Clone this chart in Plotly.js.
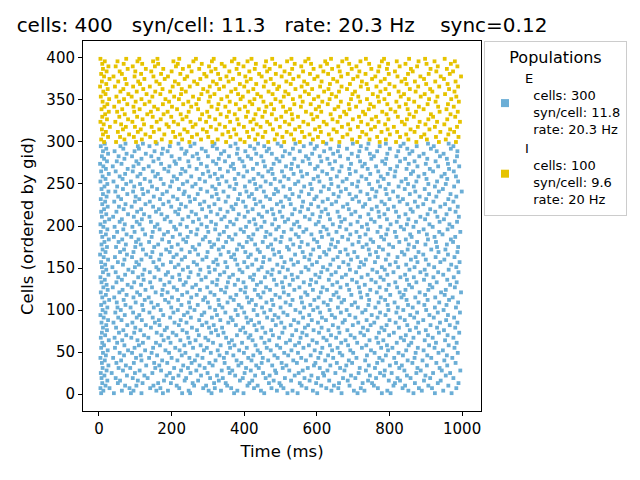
<!DOCTYPE html>
<html>
<head>
<meta charset="utf-8">
<script src="https://cdn.plot.ly/plotly-3.0.1.min.js"></script>
<style>
  html, body { margin: 0; padding: 0; background: #fff; }
  #raster { width: 640px; height: 480px; }
</style>
</head>
<body>
<div id="raster"></div>
<script>
// header numbers and the legend text, as printed on the figure
const titleText = 'cells: 400   syn/cell: 11.3   rate: 20.3 Hz    sync=0.12';
const popNames = ['E', 'I'];
const popCells = [300, 100];
const popSyn = ['11.8', '9.6'];
const popRate = ['20.3', '20'];

// NOTE: the picture holds ~8000 spikes (~0.8 px per gid), so single spikes can't be
// read off it. These lists are NOT the real spikes: they are hand-written stand-ins
// that only follow what is readable (E = gid 0-299, I = gid 300-399, spikes from
// ~5 to ~995 ms, roughly even density, a denser band right after t=0).
// Only every 3rd gid is filled, so the field is thinner than the original.
const eGids = [1, 4, 7, 10, 13, 16, 19, 22, 25, 28, 31, 34, 37, 40, 43, 46, 49, 52, 55, 58,
  61, 64, 67, 70, 73, 76, 79, 82, 85, 88, 91, 94, 97, 100, 103, 106, 109, 112, 115, 118,
  121, 124, 127, 130, 133, 136, 139, 142, 145, 148, 151, 154, 157, 160, 163, 166, 169, 172, 175, 178,
  181, 184, 187, 190, 193, 196, 199, 202, 205, 208, 211, 214, 217, 220, 223, 226, 229, 232, 235, 238,
  241, 244, 247, 250, 253, 256, 259, 262, 265, 268, 271, 274, 277, 280, 283, 286, 289, 292, 295, 298];
const eTimes = [
  [6, 41, 88, 117, 176, 229, 251, 310, 372, 398, 455, 519, 547, 601, 668, 712, 779, 803, 866, 925, 971],
  [12, 63, 95, 158, 190, 247, 302, 336, 381, 446, 490, 533, 589, 640, 702, 731, 794, 852, 889, 948],
  [4, 29, 84, 141, 169, 221, 287, 319, 364, 427, 475, 508, 571, 626, 659, 721, 768, 836, 881, 917, 984],
  [18, 72, 103, 150, 214, 262, 295, 353, 409, 437, 501, 558, 612, 647, 690, 757, 811, 843, 907, 962],
  [9, 52, 120, 163, 198, 258, 317, 349, 414, 468, 497, 553, 598, 661, 726, 752, 815, 870, 933, 990],
  [23, 58, 107, 179, 236, 273, 330, 388, 422, 481, 529, 580, 634, 685, 741, 798, 829, 895, 941],
  [7, 46, 93, 134, 204, 240, 306, 341, 396, 459, 512, 566, 603, 672, 706, 763, 822, 858, 912, 976],
  [15, 77, 125, 186, 219, 281, 325, 375, 430, 470, 539, 585, 620, 694, 746, 785, 848, 899, 955],
  [5, 35, 99, 147, 195, 252, 299, 360, 401, 452, 488, 550, 617, 651, 715, 774, 806, 874, 920, 967],
  [21, 66, 112, 171, 226, 268, 338, 367, 418, 485, 524, 561, 629, 676, 735, 787, 841, 886, 944, 995],
  [10, 54, 86, 155, 207, 245, 291, 357, 405, 440, 506, 575, 608, 664, 718, 760, 827, 877, 938],
  [26, 74, 130, 166, 232, 277, 313, 384, 433, 477, 516, 592, 637, 681, 743, 801, 834, 903, 959],
  [8, 48, 96, 152, 188, 255, 304, 346, 392, 448, 503, 545, 596, 655, 697, 766, 818, 863, 929, 982],
  [16, 61, 117, 174, 216, 264, 321, 379, 420, 466, 535, 570, 623, 688, 733, 781, 850, 891, 951],
  [4, 39, 102, 138, 200, 249, 285, 344, 411, 451, 492, 557, 604, 645, 709, 772, 813, 869, 915, 973],
  [19, 69, 115, 160, 228, 271, 332, 370, 425, 483, 521, 583, 631, 670, 738, 790, 837, 904, 958],
  [11, 57, 91, 145, 193, 238, 308, 352, 399, 444, 510, 548, 610, 663, 700, 759, 825, 872, 935, 988],
  [24, 80, 127, 183, 222, 289, 327, 386, 437, 473, 530, 594, 642, 692, 749, 796, 846, 894, 947],
  [6, 44, 98, 149, 210, 259, 297, 361, 407, 462, 499, 563, 615, 657, 724, 777, 808, 878, 924, 979],
  [14, 70, 110, 168, 235, 280, 335, 373, 431, 490, 540, 578, 636, 686, 736, 793, 853, 909, 963],
  [9, 50, 121, 157, 197, 250, 314, 358, 394, 456, 515, 551, 600, 667, 711, 769, 820, 860, 928, 985],
  [27, 64, 106, 178, 224, 266, 301, 366, 423, 469, 526, 588, 627, 679, 745, 783, 840, 897, 953],
  [5, 43, 89, 136, 191, 246, 293, 350, 412, 447, 496, 555, 618, 653, 704, 764, 831, 866, 919, 976],
  [17, 75, 124, 172, 213, 275, 328, 380, 417, 479, 532, 572, 639, 693, 730, 799, 845, 906, 960],
  [8, 55, 97, 159, 203, 242, 309, 343, 403, 458, 505, 560, 606, 662, 720, 771, 812, 881, 936, 992],
  [22, 67, 114, 181, 230, 270, 322, 389, 434, 474, 543, 591, 632, 684, 740, 786, 856, 900, 950],
  [11, 47, 100, 143, 187, 256, 303, 339, 397, 450, 511, 567, 613, 659, 727, 778, 826, 873, 931, 981],
  [20, 78, 129, 167, 220, 284, 316, 377, 428, 487, 528, 576, 644, 699, 748, 792, 849, 913, 966],
  [7, 40, 92, 154, 208, 241, 296, 356, 410, 441, 502, 549, 603, 671, 714, 758, 817, 879, 939, 987],
  [25, 62, 118, 165, 225, 276, 334, 368, 419, 478, 537, 586, 625, 677, 737, 800, 842, 893, 956],
  [13, 53, 104, 148, 196, 253, 311, 363, 406, 463, 494, 562, 614, 650, 706, 767, 829, 868, 922, 978],
  [4, 71, 111, 177, 234, 283, 325, 382, 436, 484, 519, 579, 641, 690, 751, 789, 857, 910, 961],
  [18, 45, 94, 139, 205, 244, 290, 348, 400, 455, 508, 554, 609, 666, 725, 774, 819, 876, 933, 994],
  [10, 60, 122, 170, 217, 263, 320, 376, 426, 472, 541, 590, 635, 682, 734, 797, 838, 901, 949],
  [23, 51, 87, 151, 199, 251, 305, 340, 393, 449, 500, 565, 602, 658, 713, 761, 823, 864, 925, 983],
  [6, 73, 119, 162, 227, 272, 331, 385, 432, 480, 527, 582, 630, 696, 742, 795, 851, 896, 957],
  [15, 49, 101, 144, 192, 248, 300, 354, 413, 461, 514, 559, 619, 668, 705, 770, 814, 880, 937, 989],
  [28, 68, 126, 182, 218, 287, 329, 371, 421, 476, 533, 593, 638, 675, 744, 788, 847, 905, 964],
  [9, 42, 95, 137, 201, 254, 292, 362, 408, 445, 498, 556, 605, 660, 722, 776, 833, 871, 926, 974],
  [19, 76, 113, 173, 229, 269, 318, 378, 438, 486, 522, 574, 646, 695, 739, 802, 839, 898, 952],
  [5, 56, 105, 156, 189, 243, 307, 347, 402, 453, 509, 568, 611, 654, 719, 765, 828, 883, 942, 997],
  [24, 65, 128, 175, 215, 278, 336, 390, 429, 471, 538, 589, 628, 689, 747, 791, 844, 907, 955],
  [12, 38, 90, 146, 206, 257, 298, 351, 404, 460, 507, 552, 616, 665, 716, 773, 821, 862, 918, 980],
  [21, 79, 116, 180, 233, 267, 324, 374, 435, 489, 525, 581, 643, 683, 732, 798, 854, 911, 967],
  [7, 48, 97, 141, 194, 239, 312, 355, 398, 446, 504, 564, 598, 656, 710, 762, 816, 874, 930, 985],
  [16, 63, 123, 169, 223, 282, 326, 383, 424, 482, 534, 584, 633, 697, 750, 784, 848, 895, 959],
  [4, 53, 108, 153, 202, 247, 294, 359, 416, 457, 513, 547, 607, 669, 723, 775, 830, 867, 921, 977],
  [26, 72, 120, 184, 221, 274, 333, 369, 427, 475, 531, 596, 640, 680, 740, 794, 843, 902, 948],
  [11, 46, 93, 140, 190, 252, 304, 345, 395, 464, 497, 557, 612, 652, 708, 766, 811, 885, 934, 990],
  [20, 81, 125, 164, 231, 279, 319, 387, 439, 478, 520, 577, 629, 691, 753, 787, 855, 897, 963],
  [8, 37, 99, 158, 209, 245, 302, 353, 409, 448, 506, 569, 617, 661, 717, 779, 824, 869, 923, 984],
  [17, 66, 110, 176, 219, 270, 327, 381, 422, 491, 536, 587, 637, 687, 730, 801, 846, 908, 970],
  [6, 52, 103, 150, 198, 261, 315, 348, 400, 452, 511, 548, 600, 673, 721, 760, 817, 877, 940, 993],
  [25, 70, 117, 166, 228, 285, 323, 375, 433, 470, 529, 579, 645, 694, 735, 790, 859, 900, 951],
  [13, 44, 91, 142, 205, 237, 296, 364, 411, 454, 502, 566, 608, 657, 712, 768, 822, 872, 927, 979],
  [3, 77, 130, 171, 214, 273, 335, 372, 418, 483, 540, 583, 626, 685, 746, 797, 841, 893, 961],
  [18, 58, 95, 147, 195, 250, 299, 357, 403, 443, 496, 561, 620, 664, 703, 763, 834, 880, 935, 987],
  [10, 69, 121, 185, 227, 265, 330, 380, 437, 479, 523, 590, 634, 679, 743, 782, 850, 915, 954],
  [22, 47, 100, 152, 200, 258, 310, 342, 396, 465, 518, 553, 606, 651, 726, 771, 810, 868, 931, 989],
  [7, 74, 115, 163, 217, 276, 317, 386, 430, 474, 535, 575, 639, 698, 737, 799, 853, 899, 958],
  [15, 54, 102, 138, 193, 240, 305, 350, 407, 451, 500, 558, 601, 658, 715, 755, 827, 876, 928, 975],
  [27, 64, 109, 174, 232, 286, 328, 367, 420, 486, 527, 592, 642, 686, 748, 785, 845, 906, 969],
  [9, 41, 89, 145, 203, 244, 293, 358, 412, 458, 503, 550, 614, 670, 718, 777, 819, 861, 924, 981],
  [19, 76, 127, 179, 223, 268, 332, 376, 425, 472, 542, 585, 632, 692, 734, 791, 857, 903, 946],
  [5, 50, 98, 148, 190, 253, 301, 344, 399, 461, 509, 563, 610, 654, 709, 767, 815, 881, 937, 995],
  [23, 67, 120, 167, 212, 271, 320, 390, 436, 488, 530, 571, 627, 681, 741, 795, 840, 894, 960],
  [12, 43, 92, 154, 207, 242, 297, 352, 405, 447, 495, 552, 618, 663, 724, 775, 831, 866, 919, 973],
  [4, 71, 112, 161, 224, 282, 322, 371, 431, 477, 537, 597, 644, 693, 738, 803, 848, 910, 965],
  [16, 57, 104, 143, 197, 259, 309, 361, 414, 456, 512, 546, 605, 667, 712, 759, 820, 873, 938, 986],
  [28, 63, 118, 181, 230, 275, 337, 379, 427, 485, 521, 580, 636, 677, 749, 793, 852, 898, 950],
  [8, 39, 96, 139, 188, 246, 295, 346, 401, 449, 505, 567, 609, 662, 719, 772, 826, 885, 932, 991],
  [20, 80, 124, 172, 218, 267, 326, 385, 440, 480, 532, 588, 631, 695, 742, 786, 844, 905, 957],
  [6, 48, 105, 157, 210, 255, 308, 354, 410, 463, 498, 554, 613, 657, 706, 770, 818, 864, 926, 982],
  [14, 68, 116, 165, 221, 284, 334, 370, 423, 476, 539, 576, 624, 688, 751, 796, 858, 912, 966],
  [24, 55, 90, 149, 199, 239, 303, 365, 404, 452, 507, 559, 604, 672, 727, 765, 812, 878, 940, 988],
  [9, 73, 128, 177, 226, 278, 318, 377, 432, 490, 528, 584, 641, 684, 733, 787, 849, 893, 953],
  [17, 42, 99, 140, 192, 251, 290, 349, 397, 444, 501, 562, 616, 653, 716, 778, 828, 870, 921, 976],
  [5, 61, 111, 168, 216, 264, 329, 383, 428, 471, 524, 593, 630, 698, 745, 800, 837, 901, 962],
  [21, 53, 101, 151, 204, 248, 311, 356, 413, 460, 514, 551, 599, 660, 708, 761, 823, 883, 929, 984],
  [11, 78, 122, 175, 233, 272, 324, 388, 421, 482, 533, 578, 646, 690, 739, 792, 856, 909, 968],
  [26, 45, 94, 135, 187, 236, 298, 343, 406, 454, 493, 557, 611, 666, 720, 764, 810, 871, 936, 999],
  [7, 66, 119, 160, 220, 280, 321, 373, 434, 487, 526, 586, 633, 680, 752, 789, 842, 897, 947],
  [15, 50, 97, 146, 196, 257, 312, 360, 402, 445, 508, 565, 619, 659, 711, 774, 825, 867, 925, 978],
  [23, 75, 113, 178, 231, 266, 331, 378, 430, 473, 540, 582, 640, 697, 744, 798, 851, 907, 955],
  [4, 40, 88, 141, 201, 243, 292, 351, 415, 459, 499, 549, 607, 671, 714, 768, 833, 874, 931, 989],
  [18, 65, 126, 170, 215, 277, 327, 374, 426, 484, 522, 591, 638, 682, 736, 784, 845, 902, 959],
  [10, 57, 106, 155, 206, 254, 306, 339, 398, 450, 510, 560, 603, 655, 723, 776, 814, 880, 943, 983],
  [27, 72, 114, 162, 225, 286, 319, 384, 439, 478, 536, 573, 628, 691, 747, 795, 859, 896, 952],
  [6, 46, 93, 148, 191, 238, 301, 355, 408, 466, 504, 556, 615, 662, 707, 769, 816, 865, 920, 977],
  [19, 79, 123, 180, 229, 269, 333, 372, 424, 475, 529, 595, 643, 689, 740, 802, 847, 911, 964],
  [12, 38, 95, 137, 194, 249, 297, 363, 400, 457, 515, 548, 602, 668, 725, 763, 821, 877, 934, 992],
  [3, 62, 109, 171, 212, 281, 323, 369, 435, 481, 531, 581, 635, 694, 732, 788, 853, 900, 961],
  [22, 49, 103, 150, 208, 246, 314, 347, 395, 453, 497, 561, 612, 650, 719, 780, 829, 869, 927, 980],
  [14, 70, 117, 164, 222, 274, 330, 387, 419, 489, 538, 577, 629, 686, 750, 791, 843, 904, 958],
  [8, 54, 91, 144, 200, 258, 300, 358, 410, 447, 506, 570, 608, 664, 713, 757, 819, 882, 939, 986],
  [25, 76, 129, 173, 237, 270, 336, 380, 433, 476, 525, 587, 645, 696, 746, 794, 855, 894, 949],
  [11, 43, 98, 153, 189, 241, 294, 345, 403, 462, 512, 553, 620, 658, 717, 766, 824, 863, 930, 987],
  [20, 67, 110, 176, 227, 283, 325, 382, 428, 468, 534, 594, 637, 683, 737, 801, 849, 914, 969],
  [5, 59, 107, 139, 195, 252, 313, 362, 416, 455, 502, 564, 600, 661, 721, 773, 830, 875, 922, 976],
  [16, 73, 121, 159, 219, 263, 318, 376, 438, 492, 541, 583, 626, 699, 742, 790, 839, 906, 963]
];

const iGids = [300, 303, 306, 309, 312, 315, 318, 321, 324, 327, 330, 333, 336, 339, 342, 345, 348,
  351, 354, 357, 360, 363, 366, 369, 372, 375, 378, 381, 384, 387, 390, 393, 396, 399];
const iTimes = [
  [14, 47, 102, 156, 197, 249, 312, 350, 401, 466, 510, 553, 617, 662, 711, 773, 818, 874, 936, 983],
  [6, 70, 118, 173, 229, 281, 327, 389, 430, 484, 537, 589, 640, 697, 745, 790, 852, 903, 955],
  [25, 58, 96, 141, 210, 256, 301, 362, 413, 451, 505, 566, 603, 671, 718, 766, 829, 887, 928, 990],
  [11, 83, 128, 180, 223, 270, 340, 378, 437, 490, 529, 580, 633, 684, 736, 801, 846, 896, 962],
  [19, 52, 107, 151, 204, 244, 297, 356, 408, 458, 517, 559, 611, 655, 725, 778, 821, 869, 940, 978],
  [8, 66, 115, 166, 235, 286, 323, 372, 424, 479, 540, 595, 646, 692, 749, 795, 858, 910, 967],
  [30, 74, 99, 145, 192, 258, 308, 347, 399, 445, 498, 552, 607, 669, 713, 760, 812, 878, 925, 986],
  [13, 61, 124, 186, 218, 266, 332, 385, 434, 471, 524, 576, 627, 686, 740, 788, 842, 899, 951],
  [4, 45, 92, 159, 206, 252, 295, 361, 417, 463, 512, 563, 619, 657, 722, 770, 834, 883, 931, 994],
  [22, 80, 120, 170, 230, 278, 320, 381, 426, 488, 533, 590, 643, 699, 751, 797, 848, 907, 959],
  [9, 56, 105, 148, 199, 241, 304, 352, 405, 450, 502, 548, 601, 664, 716, 763, 823, 867, 920, 981],
  [17, 71, 133, 178, 225, 284, 335, 374, 431, 476, 531, 585, 638, 681, 733, 792, 855, 914, 968],
  [27, 50, 97, 143, 189, 247, 298, 358, 410, 457, 515, 570, 612, 675, 727, 780, 816, 873, 938, 988],
  [7, 64, 112, 162, 215, 273, 326, 387, 440, 482, 526, 597, 649, 690, 743, 803, 850, 894, 957],
  [15, 42, 95, 152, 201, 254, 310, 348, 402, 461, 507, 556, 606, 659, 708, 757, 827, 881, 934, 977],
  [23, 78, 126, 176, 232, 268, 329, 377, 422, 474, 538, 583, 630, 688, 747, 794, 845, 905, 961],
  [10, 55, 101, 139, 193, 246, 302, 360, 415, 453, 500, 561, 615, 666, 719, 771, 819, 868, 927, 991],
  [28, 69, 117, 183, 220, 275, 337, 390, 428, 486, 534, 592, 635, 694, 738, 786, 853, 909, 970],
  [5, 48, 90, 147, 207, 259, 306, 353, 396, 446, 509, 554, 604, 653, 714, 768, 831, 886, 932, 984],
  [18, 81, 131, 169, 226, 282, 318, 383, 436, 478, 522, 578, 641, 698, 754, 799, 840, 897, 953],
  [12, 59, 104, 155, 196, 239, 299, 364, 411, 467, 513, 567, 620, 661, 705, 775, 825, 872, 918, 979],
  [24, 67, 122, 175, 228, 287, 331, 376, 425, 491, 541, 587, 632, 683, 741, 789, 856, 912, 964],
  [3, 44, 94, 140, 203, 250, 305, 344, 400, 454, 496, 558, 609, 668, 721, 764, 814, 879, 937, 989],
  [20, 76, 113, 167, 219, 271, 324, 388, 433, 481, 528, 574, 636, 691, 737, 800, 847, 901, 960],
  [8, 53, 108, 158, 209, 262, 314, 357, 407, 459, 516, 565, 613, 656, 724, 776, 833, 870, 926, 982],
  [29, 72, 125, 181, 236, 279, 334, 369, 418, 473, 535, 593, 645, 700, 752, 787, 843, 895, 950],
  [14, 40, 98, 150, 190, 243, 296, 351, 403, 448, 503, 550, 602, 667, 712, 761, 822, 885, 941, 997],
  [6, 63, 116, 171, 224, 290, 328, 386, 441, 487, 525, 581, 631, 685, 734, 798, 851, 908, 966],
  [21, 57, 100, 144, 200, 255, 309, 359, 414, 463, 511, 562, 618, 663, 717, 769, 815, 864, 929, 975],
  [11, 79, 129, 177, 231, 276, 321, 379, 429, 470, 532, 591, 642, 696, 750, 793, 859, 913, 958],
  [26, 46, 93, 154, 212, 248, 303, 346, 398, 456, 499, 557, 610, 659, 709, 772, 828, 876, 933, 987],
  [9, 68, 119, 163, 217, 283, 338, 384, 432, 485, 539, 584, 628, 689, 744, 796, 844, 902, 969],
  [16, 51, 106, 149, 205, 260, 311, 366, 409, 460, 518, 568, 623, 670, 720, 779, 820, 880, 924, 980],
  [4, 75, 111, 161, 221, 267, 316, 373, 420, 477, 530, 577, 639, 682, 735, 785, 854, 898, 952]
];

const xTicks = [0, 200, 400, 600, 800, 1000];
const yTicks = [0, 50, 100, 150, 200, 250, 300, 350, 400];

const colE = '#6baed6';
const colI = '#e6c300';
const FONT = 'DejaVu Sans, sans-serif';
const nb = '\u00a0';

// svg text eats repeated spaces, so swap them for nbsp
function keepSpaces(s) {
  return s.replace(/ {2,}/g, m => nb.repeat(m.length));
}

function flatten(gids, times) {
  const xs = [], ys = [];
  gids.forEach((g, k) => {
    times[k].forEach(t => { xs.push(t); ys.push(g); });
  });
  return { xs, ys };
}

function legendLabel(k) {
  return popNames[k] +
    '<br>' + nb + nb + 'cells: ' + popCells[k] +
    '<br>' + nb + nb + 'syn/cell: ' + popSyn[k] +
    '<br>' + nb + nb + 'rate: ' + popRate[k] + ' Hz';
}

const e = flatten(eGids, eTimes);
const i = flatten(iGids, iTimes);

const dotStyle = { symbol: 'square', size: 3.8, line: { width: 0 } };

const data = [
  { x: e.xs, y: e.ys, type: 'scatter', mode: 'markers', showlegend: false, hoverinfo: 'skip',
    marker: Object.assign({ color: colE }, dotStyle) },
  { x: i.xs, y: i.ys, type: 'scatter', mode: 'markers', showlegend: false, hoverinfo: 'skip',
    marker: Object.assign({ color: colI }, dotStyle) },
  // legend-only entries, so the legend swatch can be bigger than the dots
  { x: [null], y: [null], type: 'scatter', mode: 'markers', name: legendLabel(0),
    marker: { symbol: 'square', size: 8, color: colE } },
  { x: [null], y: [null], type: 'scatter', mode: 'markers', name: legendLabel(1),
    marker: { symbol: 'square', size: 8, color: colI } }
];

const axisBase = {
  showline: true, mirror: true, linecolor: '#000', linewidth: 1,
  ticks: 'outside', ticklen: 4, tickcolor: '#000',
  showgrid: false, zeroline: false,
  tickfont: { family: FONT, size: 15, color: '#000' },
  automargin: false
};

const layout = {
  width: 640, height: 480,
  margin: { l: 83, r: 159, t: 41, b: 69, autoexpand: false },
  paper_bgcolor: '#fff', plot_bgcolor: '#fff',
  font: { family: FONT, color: '#000' },
  title: {
    text: keepSpaces(titleText),
    font: { family: FONT, size: 20, color: '#000' },
    xref: 'container', x: 0.026, xanchor: 'left',
    yref: 'container', y: 0.947, yanchor: 'middle'
  },
  xaxis: Object.assign({}, axisBase, {
    range: [-44, 1052], tickvals: xTicks,
    title: { text: 'Time (ms)', font: { family: FONT, size: 16.5, color: '#000' }, standoff: 8 }
  }),
  yaxis: Object.assign({}, axisBase, {
    range: [-20.2, 420.2], tickvals: yTicks,
    title: { text: 'Cells (ordered by gid)', font: { family: FONT, size: 16.5, color: '#000' }, standoff: 8 }
  }),
  legend: {
    x: 1.0075, y: 1, xanchor: 'left', yanchor: 'top',
    bgcolor: '#fff', bordercolor: '#cccccc', borderwidth: 1,
    font: { family: FONT, size: 13, color: '#000' },
    title: { text: 'Populations', side: 'top center', font: { family: FONT, size: 16, color: '#000' } },
    tracegroupgap: 0
  },
  showlegend: true
};

Plotly.newPlot('raster', data, layout, { staticPlot: true });
</script>
</body>
</html>
